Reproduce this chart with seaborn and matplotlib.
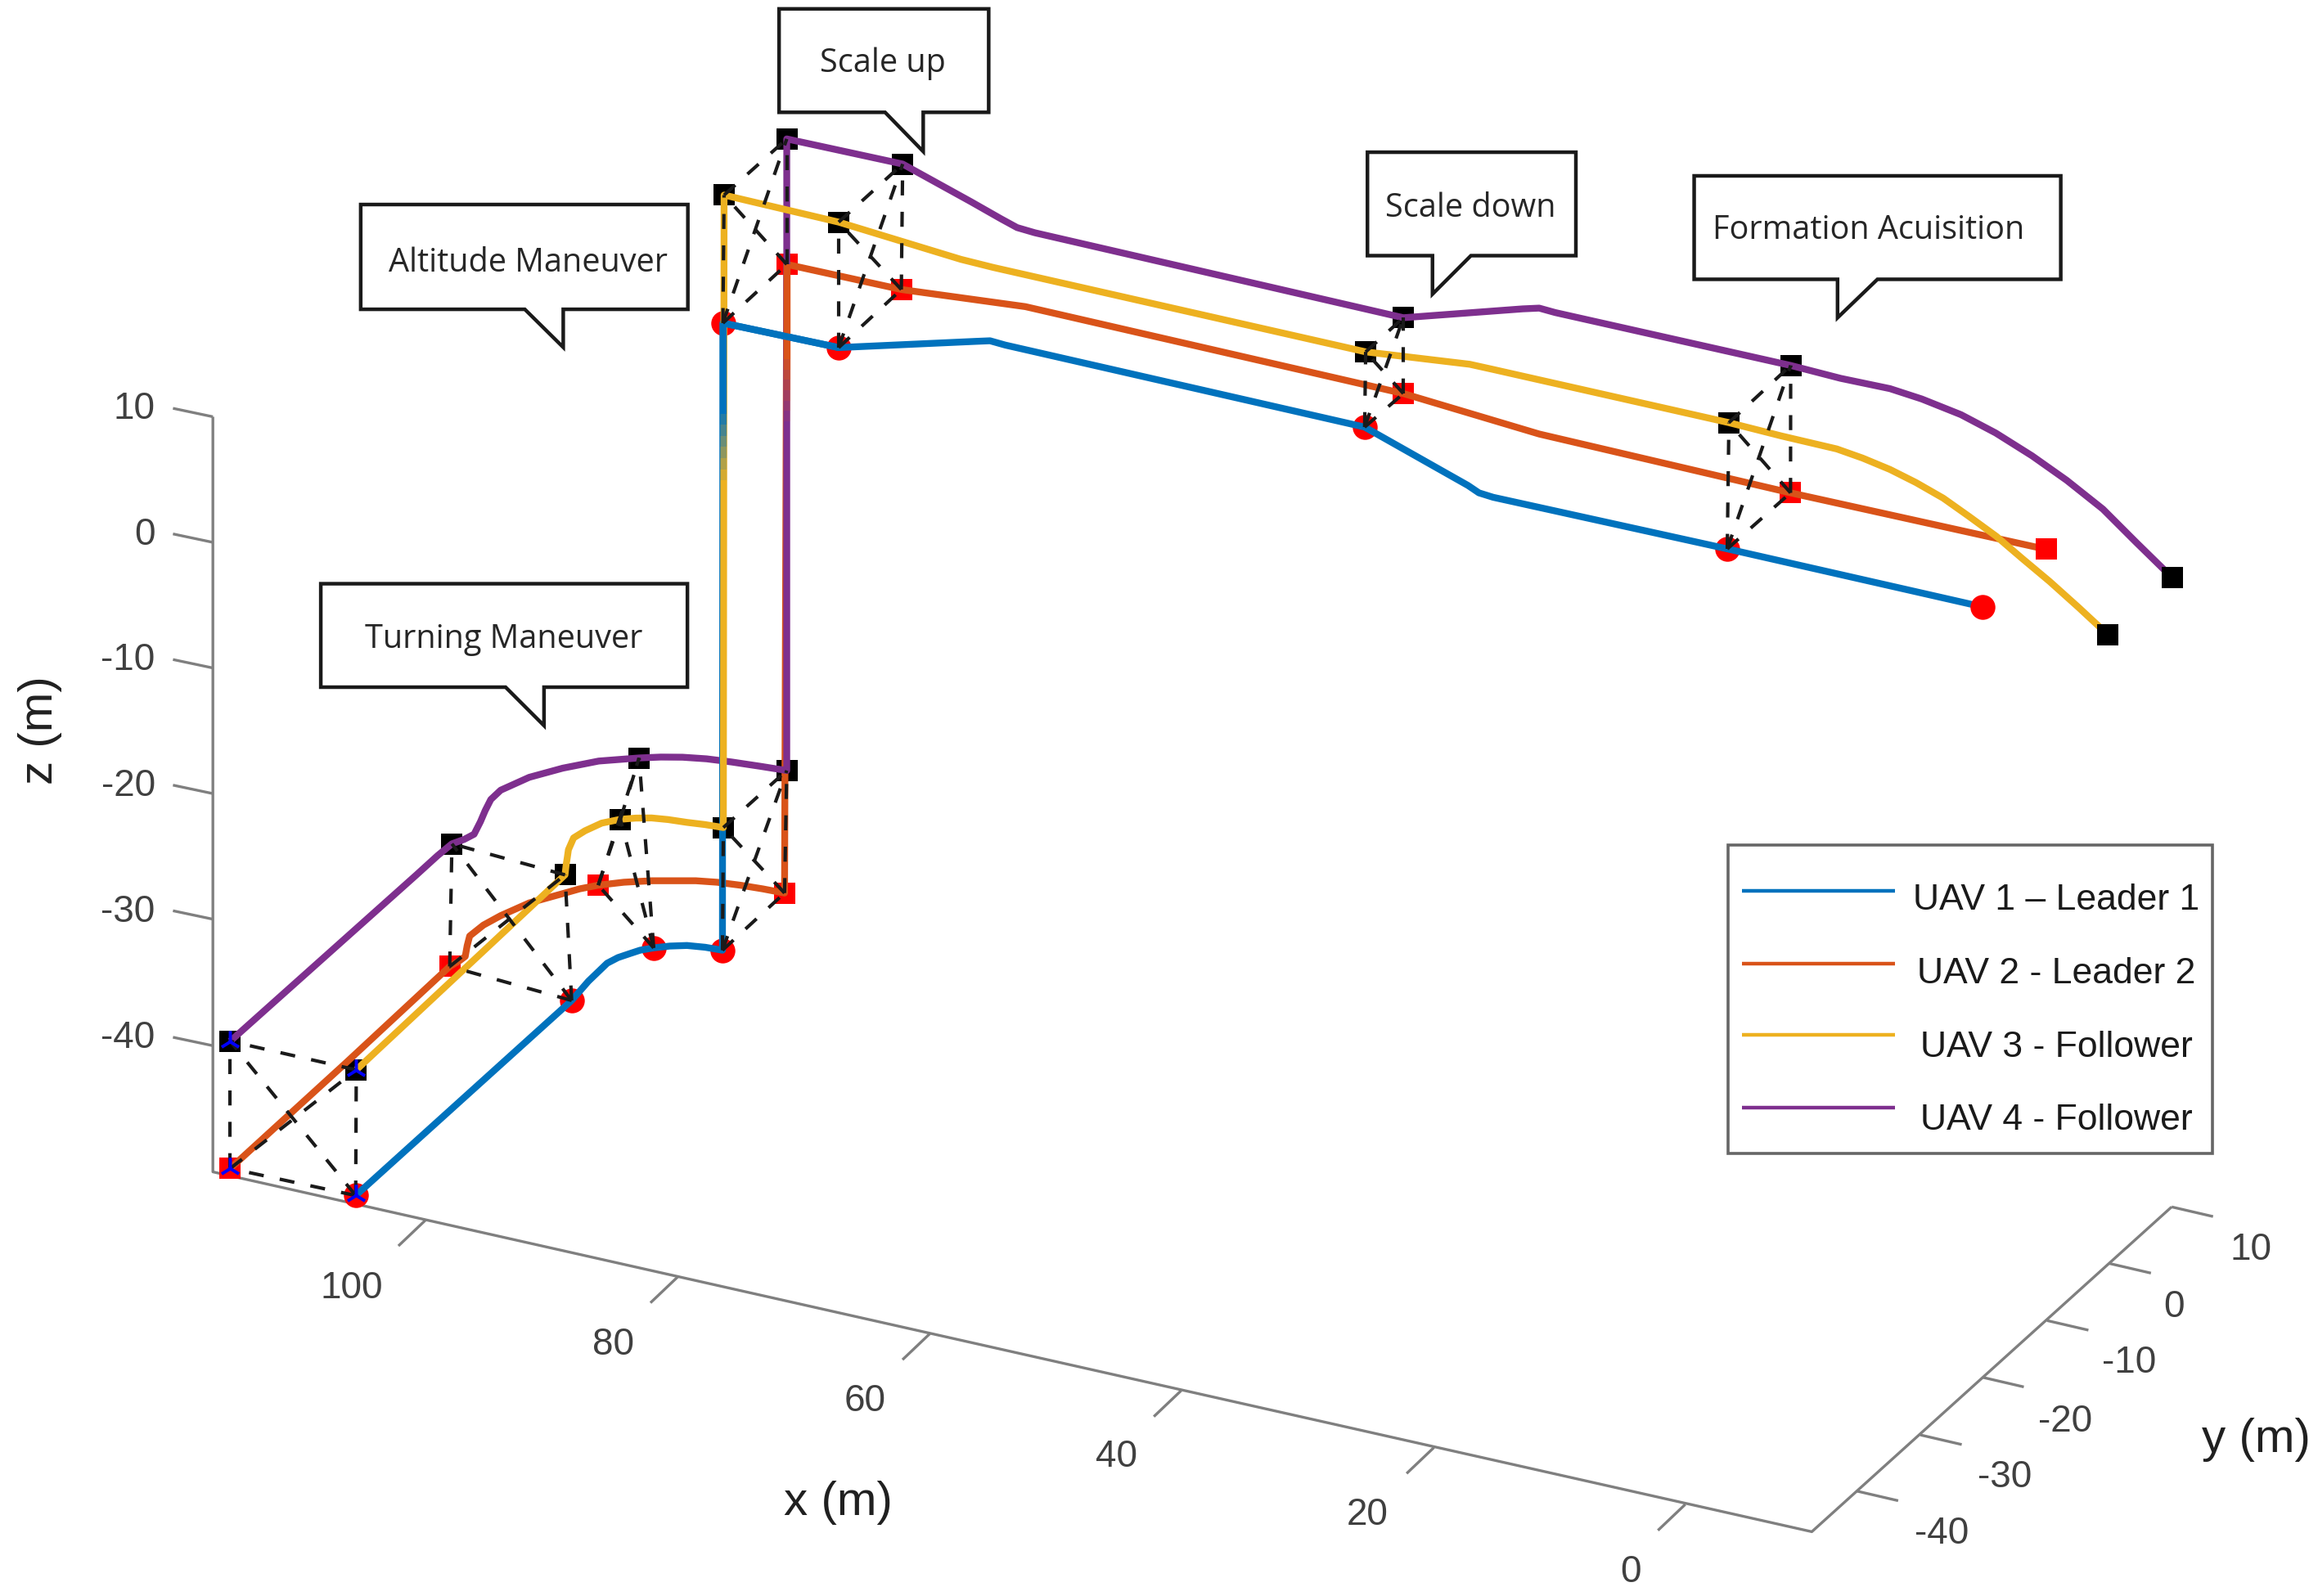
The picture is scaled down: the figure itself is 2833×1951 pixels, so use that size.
# UAV formation trajectories, MATLAB style oblique 3D view.
import numpy as np
import pandas as pd
import matplotlib
matplotlib.use("Agg")
import matplotlib.pyplot as plt
from matplotlib.patches import Polygon, Rectangle
import seaborn as sns

# ── Data ─────────────────────────────────────────────────────────────────────
UAV_NAMES = ["UAV 1 – Leader 1", "UAV 2 - Leader 2", "UAV 3 - Follower", "UAV 4 - Follower"]
UAV_COLORS = ["#0072BD", "#D95319", "#EDB120", "#7E2F8E"]

uav1_u = [240.6, 386.7, 398.0, 410.7, 418.0, 425.7, 433.0, 442.2, 453.0, 464.7, 477.0, 488.7, 489.0,
          567.3, 660.0, 669.7, 680.0, 923.1, 993.0, 1000.4, 1010.0, 1168.4, 1340.9]
uav1_v = [809.0, 677.0, 664.0, 651.8, 648.0, 645.4, 643.0, 641.4, 640.2, 639.8, 641.0, 643.0, 218.6,
          235.2, 231.0, 230.6, 233.5, 289.0, 328.5, 333.5, 336.5, 371.4, 410.6]

uav2_u = [155.7, 233.7, 304.2, 311.0, 314.7, 316.0, 317.7, 327.0, 338.7, 358.0, 380.7, 392.0, 404.7, 422.0,
          440.7, 470.7, 485.0, 500.7, 516.0, 530.7, 532.2, 609.7, 693.6, 949.3, 1041.2, 1211.2, 1384.0]
uav2_v = [790.7, 719.5, 654.0, 650.0, 647.2, 640.0, 633.4, 626.0, 619.6, 611.0, 604.7, 601.5, 599.0, 597.0,
          596.0, 596.0, 597.0, 599.0, 601.5, 604.3, 178.9, 195.9, 207.5, 266.3, 293.7, 333.5, 371.7]

uav3_u = [241.0, 382.2, 383.0, 383.7, 384.5, 388.0, 395.7, 407.0, 419.7, 430.0, 440.7, 452.0, 464.7, 477.0,
          489.3, 489.8, 567.3, 650.0, 672.0, 923.8, 994.2, 1010.0, 1169.5, 1205.0, 1242.5, 1260.0, 1278.5,
          1296.0, 1314.5, 1332.0, 1350.5, 1368.0, 1386.5, 1406.0, 1426.0]
uav3_v = [724.0, 592.0, 585.0, 580.6, 575.0, 567.0, 562.2, 557.0, 554.4, 553.6, 553.5, 554.6, 556.5, 558.0,
          560.0, 132.0, 150.3, 175.5, 181.0, 238.1, 246.5, 250.0, 286.0, 295.0, 303.8, 310.0, 317.7,
          326.5, 337.1, 349.5, 363.0, 378.0, 393.5, 411.0, 429.6]

uav4_u = [155.7, 281.7, 296.0, 305.7, 314.0, 320.7, 325.0, 328.2, 332.0, 338.7, 358.0, 380.7, 405.0, 432.3,
          447.0, 461.7, 478.0, 494.7, 514.0, 532.2, 532.2, 610.6, 656.8, 677.0, 688.0, 700.0, 949.3, 1030.0,
          1041.2, 1052.0, 1211.3, 1245.0, 1278.5, 1300.0, 1326.5, 1350.0, 1374.5, 1398.0, 1422.5, 1445.0, 1469.3]
uav4_v = [704.6, 592.0, 579.0, 571.0, 568.0, 564.5, 556.0, 548.5, 541.0, 534.7, 526.0, 519.8, 515.0, 512.9,
          512.3, 512.4, 513.5, 515.6, 518.5, 521.4, 94.0, 111.0, 136.5, 148.0, 154.0, 157.5, 215.0, 209.0,
          208.5, 211.5, 247.3, 256.0, 263.0, 270.0, 280.6, 293.0, 308.4, 325.0, 344.5, 367.0, 390.8]

# formation waypoints: last one of each list is the end of the run
way1_u = [240.6, 386.7, 442.2, 488.7, 489.0, 567.3, 923.1, 1168.4, 1340.9]
way1_v = [809.0, 677.0, 641.4, 643.0, 218.6, 235.2, 289.0, 371.4, 410.6]
way2_u = [155.7, 304.2, 404.7, 530.7, 532.2, 609.7, 949.3, 1211.2, 1384.0]
way2_v = [790.7, 654.0, 599.0, 604.3, 178.9, 195.9, 266.3, 333.5, 371.7]
way3_u = [241.0, 382.2, 419.7, 489.3, 489.8, 567.3, 923.8, 1169.5, 1426.0]
way3_v = [724.0, 592.0, 554.4, 560.0, 132.0, 150.3, 238.1, 286.0, 429.6]
way4_u = [155.7, 305.7, 432.3, 532.2, 532.2, 610.6, 949.3, 1211.3, 1469.3]
way4_v = [704.6, 571.0, 512.9, 521.4, 94.0, 111.0, 215.0, 247.3, 390.8]

# axes
x_ticks = ["100", "80", "60", "40", "20", "0"]
x_tick_u = [288.0, 458.5, 629.0, 799.0, 970.0, 1140.0]
x_tick_v = [825.5, 864.0, 902.5, 941.0, 979.5, 1018.0]
x_label_u = [238, 415, 585, 755, 925, 1103]
x_label_v = [872, 910, 948, 986, 1025, 1064]

y_ticks = ["-40", "-30", "-20", "-10", "0", "10"]
y_tick_u = [1256.0, 1299.0, 1341.0, 1384.7, 1427.0, 1469.0]
y_tick_v = [1009.0, 971.0, 932.0, 893.6, 855.0, 816.7]
y_label_u = [1313.6, 1356.0, 1397.0, 1440.4, 1470.6, 1522.5]
y_label_v = [1038, 1000, 962, 922.3, 884.5, 846]

z_ticks = ["10", "0", "-10", "-20", "-30", "-40"]
z_tick_v = [282.0, 367.0, 452.0, 537.0, 622.0, 707.6]

# speech bubble notes: text, text centre, outline
notes = ["Scale up", "Altitude Maneuver", "Scale down", "Formation Acuisition", "Turning Maneuver"]
note_u = [597, 357, 995, 1264, 341]
note_v = [43, 178, 141, 156, 433]
note_boxes = [
    [(527, 6), (668.8, 6), (668.8, 76), (624.5, 76), (624.5, 102.5), (598.7, 76), (527, 76)],
    [(244, 138.4), (465.3, 138.4), (465.3, 209.3), (381, 209.3), (381, 235), (355, 209.3), (244, 209.3)],
    [(925, 103), (1066, 103), (1066, 173), (995, 173), (969, 199), (969, 173), (925, 173)],
    [(1146, 119), (1394, 119), (1394, 189), (1270, 189), (1243, 215), (1243, 189), (1146, 189)],
    [(217, 395), (465, 395), (465, 465), (368, 465), (368, 491), (342, 465), (217, 465)],
]

legend_v = [603, 652, 700.4, 749.5]
legend_text_v = [609, 659, 709, 758]
legend_text_u = [1294, 1297, 1299, 1299]

AXIS_GREY = "#7f7f7f"
TEXT_GREY = "#404040"
LW = 6.0

# ── Canvas: one axes over the whole image, in image-plane units ──────────────
sns.set_theme(style="white")
plt.rcParams["font.family"] = ["Liberation Sans", "DejaVu Sans"]

fig = plt.figure(figsize=(28.33, 19.51), dpi=100, facecolor="white")
ax = fig.add_axes([0, 0, 1, 1])
ax.set_xlim(0, 1568)
ax.set_ylim(1080, 0)
ax.axis("off")

# ── Box axes ─────────────────────────────────────────────────────────────────
def seg(us, vs, color=AXIS_GREY, lw=2.4, zorder=1):
    ax.plot(us, vs, color=color, lw=lw, zorder=zorder, solid_capstyle="butt")

seg([144, 144, 1225.6, 1469], [282, 793, 1036.5, 816.7])
for u, v in zip(x_tick_u, x_tick_v):
    seg([u, u - 18.5], [v, v + 17.6])
for u, v in zip(y_tick_u, y_tick_v):
    seg([u, u + 28], [v, v + 6.5])
for v in z_tick_v:
    seg([144, 117], [v, v - 5.7])

for s, u, v in zip(x_ticks, x_label_u, x_label_v):
    ax.text(u, v, s, ha="center", va="center", fontsize=33, color=TEXT_GREY)
for s, u, v in zip(y_ticks, y_label_u, y_label_v):
    ax.text(u, v, s, ha="center", va="center", fontsize=33, color=TEXT_GREY)
for s, v in zip(z_ticks, z_tick_v):
    ax.text(105, v - 5, s, ha="right", va="center", fontsize=33, color=TEXT_GREY)

ax.text(567, 1017, "x (m)", ha="center", va="center", fontsize=42, color="#202020")
ax.text(1526, 974, "y (m)", ha="center", va="center", fontsize=42, color="#202020")
ax.text(27, 494, "z (m)", ha="center", va="center", fontsize=42, color="#202020", rotation=90)

# ── Waypoint markers, below the lines ────────────────────────────────────────
way_u = [way1_u, way2_u, way3_u, way4_u]
way_v = [way1_v, way2_v, way3_v, way4_v]
way_style = [("o", "#FF0000", 480), ("s", "#FF0000", 340), ("s", "black", 340), ("s", "black", 340)]
for us, vs, (mk, col, size) in zip(way_u, way_v, way_style):
    sns.scatterplot(x=us[:-1], y=vs[:-1], marker=mk, color=col, s=size, linewidth=0, ax=ax, zorder=2, legend=False)
    sns.scatterplot(x=us[-1:], y=vs[-1:], marker=mk, color=col, s=size, linewidth=0, ax=ax, zorder=6, legend=False)

# ── Trajectories ─────────────────────────────────────────────────────────────
tracks = pd.concat([
    pd.DataFrame({"u": uav1_u, "v": uav1_v, "uav": UAV_NAMES[0]}),
    pd.DataFrame({"u": uav2_u, "v": uav2_v, "uav": UAV_NAMES[1]}),
    pd.DataFrame({"u": uav3_u, "v": uav3_v, "uav": UAV_NAMES[2]}),
    pd.DataFrame({"u": uav4_u, "v": uav4_v, "uav": UAV_NAMES[3]}),
])
# drawing order follows what sits on top in the picture
for name, z in [(UAV_NAMES[1], 3.0), (UAV_NAMES[3], 3.1), (UAV_NAMES[0], 3.2), (UAV_NAMES[2], 3.3)]:
    one = tracks[tracks["uav"] == name]
    color = UAV_COLORS[UAV_NAMES.index(name)]
    sns.lineplot(data=one, x="u", y="v", sort=False, estimator=None, color=color, linewidth=LW,
                 ax=ax, zorder=z, legend=False, solid_joinstyle="round", solid_capstyle="butt")

# the two vertical climbs overlap, the colours cross-fade in the source
seg([532.2, 532.2], [178.9, 243], color=UAV_COLORS[1], lw=LW, zorder=3.4)
seg([489.0, 489.0], [218.6, 280], color=UAV_COLORS[0], lw=LW, zorder=3.4)
fade_alpha = [0.85, 0.7, 0.55, 0.4, 0.25, 0.1]
for i, a in enumerate(fade_alpha):
    ax.plot([532.2, 532.2], [243 + i * 7, 250 + i * 7], color=UAV_COLORS[1], alpha=a, lw=LW,
            zorder=3.4, solid_capstyle="butt")
    ax.plot([489.0, 489.0], [280 + i * 7.5, 287.5 + i * 7.5], color=UAV_COLORS[0], alpha=a, lw=LW,
            zorder=3.4, solid_capstyle="butt")
# blue crosses over the orange climb
seg([489.0, 567.3], [218.6, 235.2], color=UAV_COLORS[0], lw=LW, zorder=3.5)

# ── Formation links: all six edges at every waypoint but the last ────────────
for k in range(len(way1_u) - 1):
    pts = [(way_u[i][k], way_v[i][k]) for i in range(4)]
    for a in range(4):
        for b in range(a + 1, 4):
            ax.plot([pts[a][0], pts[b][0]], [pts[a][1], pts[b][1]], color="#1a1a1a", lw=3.0,
                    linestyle=(0, (4.4, 4.8)), zorder=5)

# start markers carry a blue three-arm marker on top
sns.scatterplot(x=[w[0] for w in way_u], y=[w[0] for w in way_v], marker="2", color="#0000FF",
                s=360, linewidth=2.8, ax=ax, zorder=7, legend=False)

# ── Notes ────────────────────────────────────────────────────────────────────
for s, u, v, box in zip(notes, note_u, note_v, note_boxes):
    ax.add_patch(Polygon(box, closed=True, facecolor="white", edgecolor="#1a1a1a", lw=3.2, zorder=8))
    ax.text(u, v, s, ha="center", va="center", fontsize=28.5, family=["Open Sans", "DejaVu Sans"],
            color="#262626", zorder=9)

# ── Legend ───────────────────────────────────────────────────────────────────
ax.add_patch(Rectangle((1169, 572), 327.6, 208.6, facecolor="white", edgecolor="#666666", lw=2.6, zorder=8))
for name, col, v, tv, tu in zip(UAV_NAMES, UAV_COLORS, legend_v, legend_text_v, legend_text_u):
    seg([1178.5, 1282], [v, v], color=col, lw=3.2, zorder=9)
    ax.text(tu, tv, name, ha="left", va="center", fontsize=32, color="#1a1a1a", zorder=9)

fig.savefig("out.png", dpi=100)
